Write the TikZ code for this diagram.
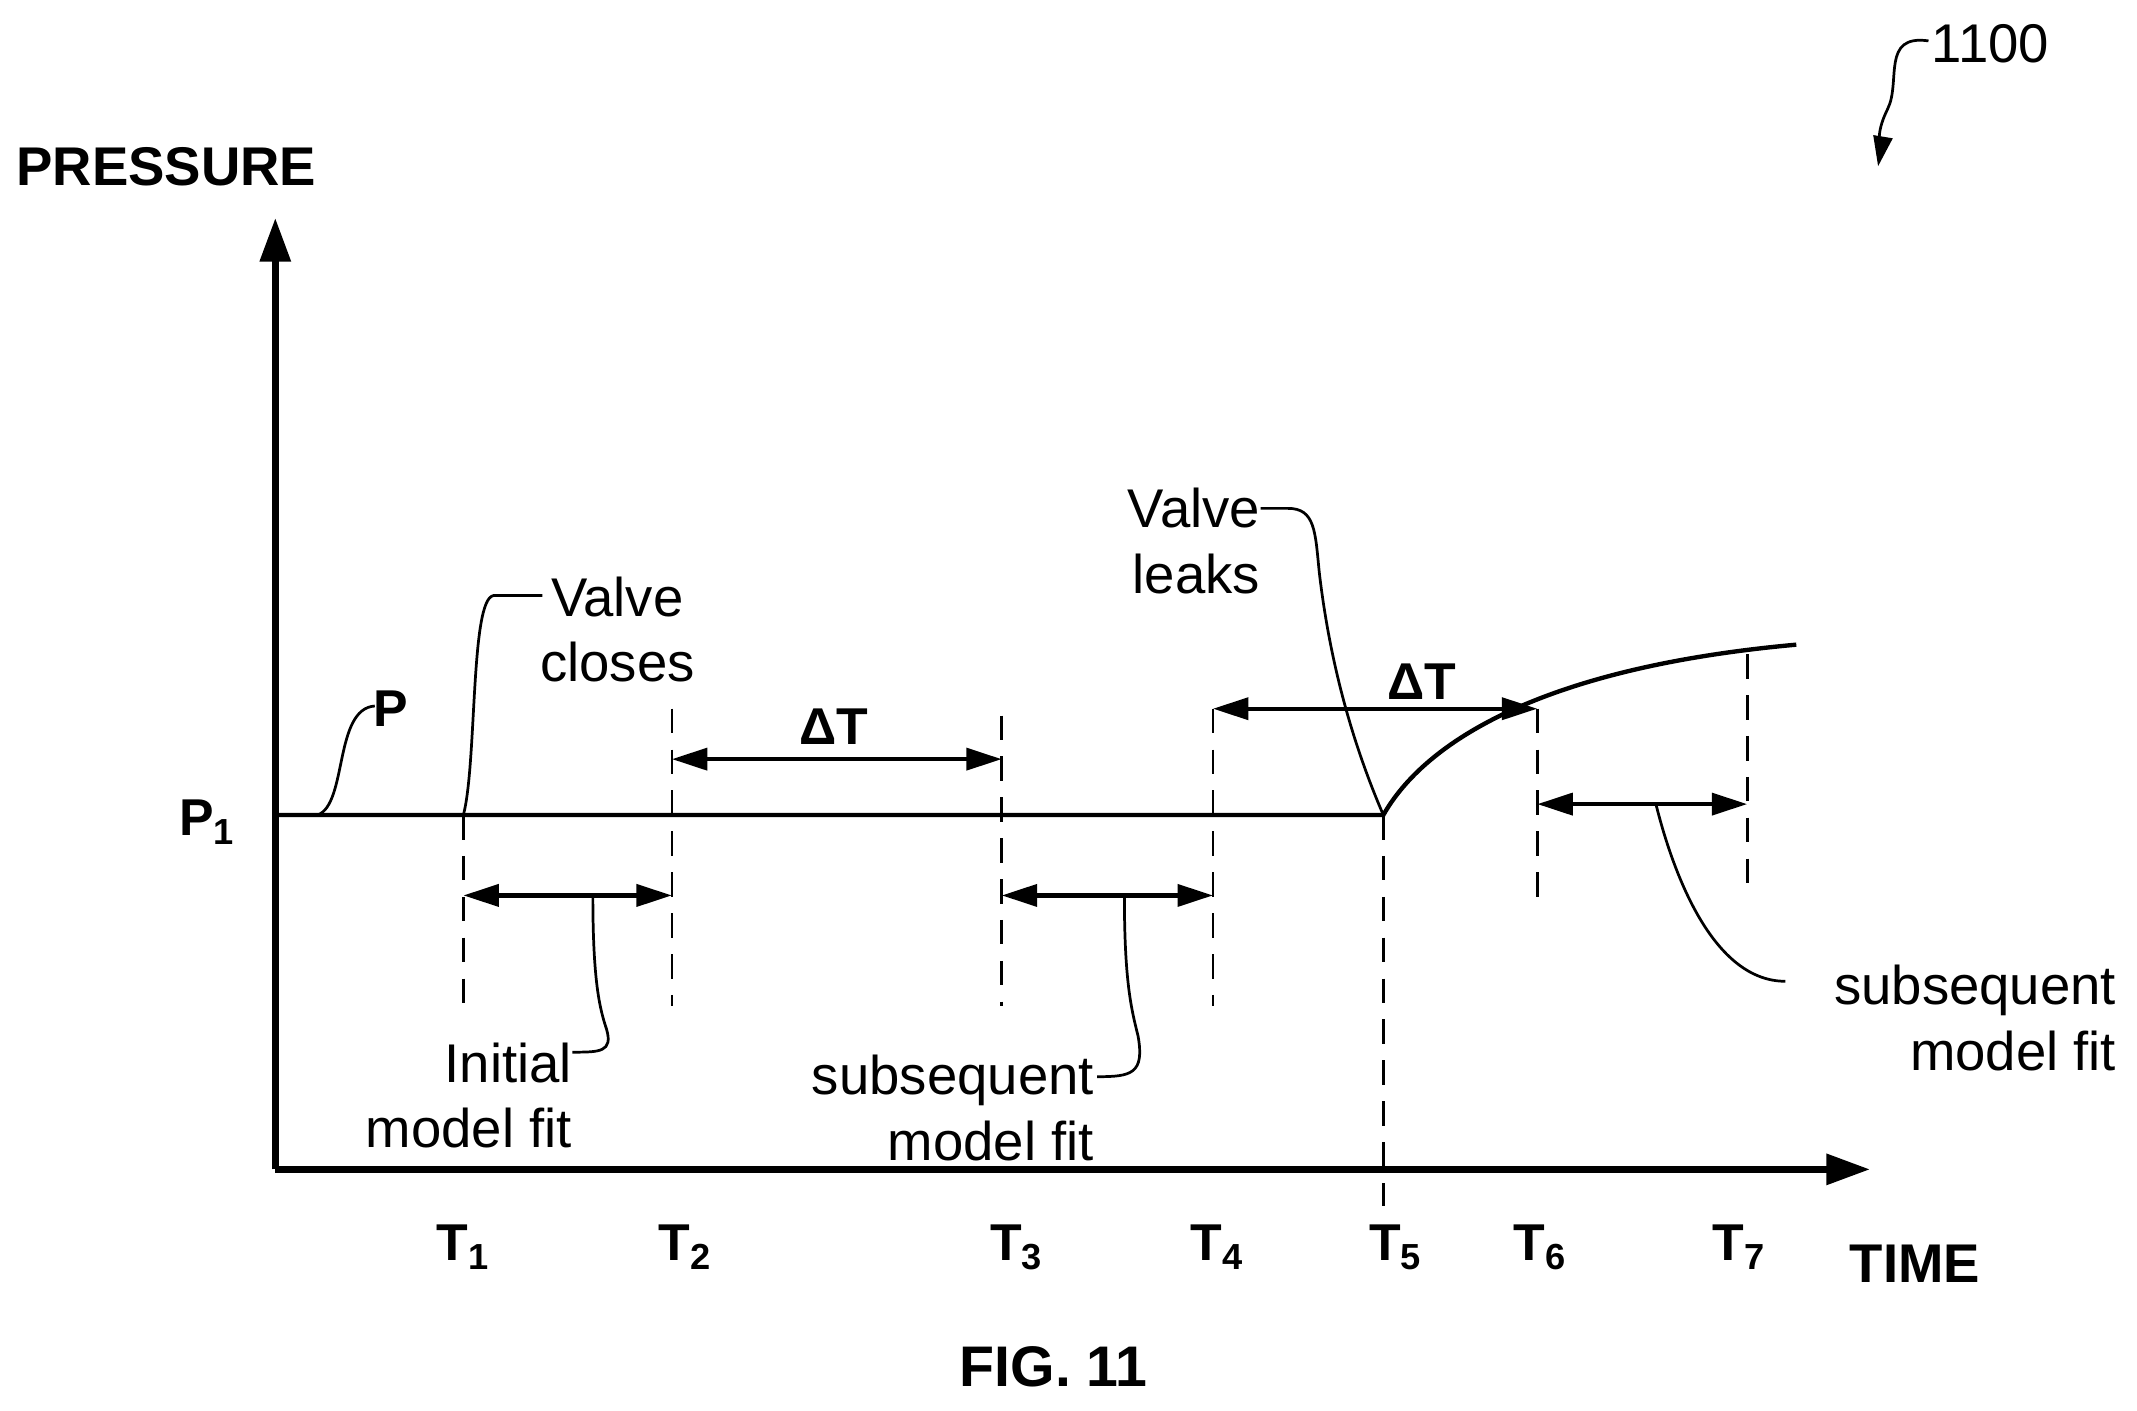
\documentclass[tikz,border=0pt]{standalone}
\usepackage{fontspec}
\setmainfont{Liberation Sans}
\usetikzlibrary{arrows.meta}
\begin{document}
\begin{tikzpicture}[x=0.5pt,y=-0.5pt,
  ln/.style={line width=1.6pt},
  ax/.style={line width=2.4pt,-{Triangle[length=16pt,width=11pt]}},
  dim/.style={line width=1.6pt,{Triangle[length=13pt,width=8pt]}-{Triangle[length=13pt,width=8pt]}},
  dsh/.style={line width=1pt,dash pattern=on 9pt off 6pt},
  lead/.style={line width=1pt},
  t/.style={font=\fontsize{20}{24}\selectfont,align=right,inner sep=1pt},
  b/.style={font=\fontsize{19}{23}\selectfont\bfseries,inner sep=1pt}]
\useasboundingbox (0,0) rectangle (1568,1035);
\coordinate (O) at (202,858);
\coordinate (Ytip) at (202,160);
\coordinate (Xtip) at (1372,858);
\draw[ax] (O) -- (Ytip);
\draw[ax] (O) -- (Xtip);
\coordinate (P0) at (202,598);
\coordinate (P5) at (1015,598);
\coordinate (Pe) at (1318,473);
\draw[ln] (P0) -- (P5) .. controls (1045,545) and (1130,490) .. (Pe);
% dashed
\foreach \n/\x/\a/\b in {1/340/598/738,2/493/520/738,3/735/525/738,4/890/520/738,5/1015/598/885,6/1128/520/658,7/1282/480/658}
  {\coordinate (d\n a) at (\x,\a); \coordinate (d\n b) at (\x,\b); \draw[dsh] (d\n a) -- (d\n b);}
% dimension arrows
\coordinate (A1) at (493,557); \coordinate (A2) at (735,557);
\draw[dim] (A1) -- (A2);
\node[b] (dt1) at (612,533) {ΔT};
\coordinate (B1) at (890,520); \coordinate (B2) at (1128,520);
\draw[dim] (B1) -- (B2);
\node[b] (dt2) at (1043,500) {ΔT};
\coordinate (F1a) at (340,657); \coordinate (F1b) at (493,657);
\draw[dim] (F1a) -- (F1b);
\coordinate (F2a) at (735,657); \coordinate (F2b) at (890,657);
\draw[dim] (F2a) -- (F2b);
\coordinate (F3a) at (1128,590); \coordinate (F3b) at (1282,590);
\draw[dim] (F3a) -- (F3b);
% labels
\node[b,font=\fontsize{20}{24}\selectfont\bfseries] (pr) at (122,122) {PRESSURE};
\node[b,font=\fontsize{20}{24}\selectfont\bfseries] (tm) at (1405,927) {TIME};
\node[b] (p1) at (152,603) {P\textsubscript{1}};
\node[b] (p) at (287,520) {P};
\foreach \n/\x in {1/340,2/503,3/746,4/893,5/1024,6/1130,7/1276}
  \node[b] (T\n) at (\x,915) {T\textsubscript{\n}};
\node[b,font=\fontsize{21}{25}\selectfont\bfseries] (fig) at (773,1003) {FIG. 11};
\node[t,anchor=west] (n1100) at (1415,32) {1100};
\node[t,align=center] (vc) at (453,462) {Valve\\closes};
\node[t,anchor=east] (vl) at (927,397) {Valve\\leaks};
\node[t,anchor=east] (imf) at (422,804) {Initial\\model fit};
\node[t,anchor=east] (smf1) at (805,813) {subsequent\\model fit};
\node[t,anchor=east] (smf2) at (1555,747) {subsequent\\model fit};
% leaders
\coordinate (pl0) at (233,598);
\draw[lead] (pl0) .. controls (255,590) and (245,520) .. (275,518);
\draw[lead] (d1a) .. controls (350,560) and (345,440) .. (362,437) -- (398,437);
\draw[lead] (925,373) -- (945,373) .. controls (965,373) and (965,390) .. (968,420) .. controls (975,480) and (990,540) .. (P5);
\coordinate (l1) at (435,657);
\draw[lead] (l1) .. controls (435,720) and (440,740) .. (445,755) .. controls (450,772) and (440,772) .. (420,772);
\coordinate (l2) at (825,657);
\draw[lead] (l2) .. controls (825,720) and (830,740) .. (835,760) .. controls (840,788) and (830,790) .. (805,790);
\coordinate (l3) at (1215,590);
\draw[lead] (l3) .. controls (1230,650) and (1260,720) .. (1310,720);
\coordinate (s1) at (1415,30); \coordinate (s2) at (1378,122);
\draw[lead,-{Triangle[length=11pt,width=7pt]}] (s1) .. controls (1380,25) and (1395,60) .. (1385,80) .. controls (1375,100) and (1380,110) .. (s2);
\end{tikzpicture}
\end{document}
